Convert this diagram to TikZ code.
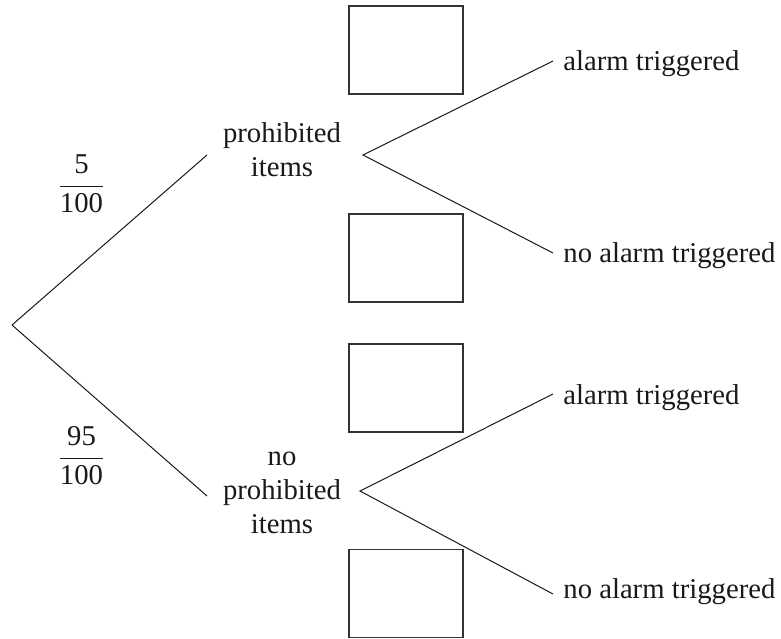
\documentclass[tikz,border=0pt]{standalone}
\usepackage{fontspec}
\setmainfont{Liberation Serif}
\begin{document}
\begin{tikzpicture}[x=0.5pt,y=-0.5pt,
  ink/.style={draw=black!90, line width=0.5pt},
  lbl/.style={font=\fontsize{14.35}{17}\selectfont, text=black!90, inner sep=0pt},
  leaf/.style={lbl, anchor=base west},
  event/.style={lbl, align=center},
  prob/.style={lbl},
  answerbox/.style={draw=black!80, line width=0.75pt, minimum width=57pt, minimum height=44pt, inner sep=0pt}
]
\useasboundingbox (0,0) rectangle (781,638);

% branch points
\coordinate (root) at (12,325);
\coordinate (pIn)  at (207,155);
\coordinate (pOut) at (363,155);
\coordinate (nIn)  at (207,496);
\coordinate (nOut) at (360,491);
\coordinate (pA)   at (553,61);
\coordinate (pN)   at (553,253);
\coordinate (nA)   at (553,394);
\coordinate (nN)   at (553,594);

% first stage
\node[event] (prohib) at (282,150) {prohibited\\items};
\node[event] (noprohib) at (282,493) {no\\prohibited\\items};
\node[prob] (p5) at (81.5,184) {$\displaystyle\frac{\hbox{5}}{\hbox{100}}$};
\node[prob] (p95) at (81.5,456) {$\displaystyle\frac{\hbox{95}}{\hbox{100}}$};
\draw[ink] (root) -- (pIn);
\draw[ink] (root) -- (nIn);

% second stage
\node[leaf] (pAl) at (563,70) {alarm triggered};
\node[leaf] (pNo) at (563,262) {no alarm triggered};
\node[leaf] (nAl) at (563,404) {alarm triggered};
\node[leaf] (nNo) at (563,598) {no alarm triggered};
\draw[ink] (pA) -- (pOut) -- (pN);
\draw[ink] (nA) -- (nOut) -- (nN);

% empty boxes for the missing probabilities
\node[answerbox] (b1) at (406,50) {};
\node[answerbox] (b2) at (406,258) {};
\node[answerbox] (b3) at (406,388) {};
\node[answerbox] (b4) at (406,593.5) {};
\end{tikzpicture}
\end{document}
